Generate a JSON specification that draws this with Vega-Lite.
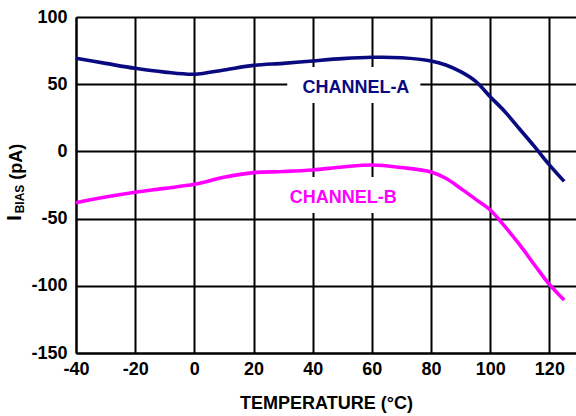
{
  "$schema": "https://vega.github.io/schema/vega-lite/v6.json",
  "autosize": "none",
  "width": 500,
  "height": 336,
  "padding": {"left": 76, "top": 17, "right": 0, "bottom": 63},
  "background": "white",
  "config": {
    "view": {"stroke": null},
    "font": "Liberation Sans",
    "axis": {
      "labelFont": "Liberation Sans",
      "labelFontWeight": "bold",
      "labelFontSize": 18,
      "labelColor": "black",
      "labelExpr": "'' + datum.value",
      "titleFont": "Liberation Sans",
      "titleFontWeight": "bold",
      "titleFontSize": 18,
      "titleColor": "black",
      "gridColor": "black",
      "gridOpacity": 1,
      "gridWidth": 2,
      "domainColor": "black",
      "domainWidth": 2,
      "ticks": false
    }
  },
  "datasets": {
    "curves": [
      {"T": -40, "v": 69.3, "channel": "A"},
      {"T": -30, "v": 65.5, "channel": "A"},
      {"T": -20, "v": 61.8, "channel": "A"},
      {"T": -10, "v": 59.0, "channel": "A"},
      {"T": 0, "v": 57.4, "channel": "A"},
      {"T": 10, "v": 60.6, "channel": "A"},
      {"T": 20, "v": 64.0, "channel": "A"},
      {"T": 30, "v": 65.5, "channel": "A"},
      {"T": 40, "v": 67.3, "channel": "A"},
      {"T": 50, "v": 69.0, "channel": "A"},
      {"T": 60, "v": 70.0, "channel": "A"},
      {"T": 70, "v": 69.7, "channel": "A"},
      {"T": 80, "v": 67.3, "channel": "A"},
      {"T": 85, "v": 64.3, "channel": "A"},
      {"T": 90, "v": 59.3, "channel": "A"},
      {"T": 95, "v": 52.3, "channel": "A"},
      {"T": 100, "v": 40.7, "channel": "A"},
      {"T": 105, "v": 29.5, "channel": "A"},
      {"T": 110, "v": 16.5, "channel": "A"},
      {"T": 115, "v": 3.5, "channel": "A"},
      {"T": 120, "v": -10.0, "channel": "A"},
      {"T": 125, "v": -22.3, "channel": "A"},
      {"T": -40, "v": -38.2, "channel": "B"},
      {"T": -30, "v": -34.0, "channel": "B"},
      {"T": -20, "v": -30.4, "channel": "B"},
      {"T": -10, "v": -27.5, "channel": "B"},
      {"T": 0, "v": -24.5, "channel": "B"},
      {"T": 10, "v": -19.3, "channel": "B"},
      {"T": 20, "v": -15.8, "channel": "B"},
      {"T": 30, "v": -15.0, "channel": "B"},
      {"T": 40, "v": -13.8, "channel": "B"},
      {"T": 50, "v": -11.6, "channel": "B"},
      {"T": 60, "v": -10.1, "channel": "B"},
      {"T": 70, "v": -12.0, "channel": "B"},
      {"T": 80, "v": -15.3, "channel": "B"},
      {"T": 85, "v": -20.0, "channel": "B"},
      {"T": 90, "v": -27.5, "channel": "B"},
      {"T": 95, "v": -35.5, "channel": "B"},
      {"T": 100, "v": -43.6, "channel": "B"},
      {"T": 105, "v": -56.0, "channel": "B"},
      {"T": 110, "v": -69.6, "channel": "B"},
      {"T": 115, "v": -84.5, "channel": "B"},
      {"T": 120, "v": -99.0, "channel": "B"},
      {"T": 125, "v": -110.6, "channel": "B"}
    ],
    "labels": [
      {"T": 54.6, "v": 46.9, "text": "CHANNEL-A", "channel": "A", "T1": 31.4, "T2": 76.4, "v1": 36, "v2": 62.8},
      {"T": 50.3, "v": -34.7, "text": "CHANNEL-B", "channel": "B", "T1": 28, "T2": 72, "v1": -45.8, "v2": -19}
    ],
    "ytitle": [
      {"T": -60.6, "v": -49.6, "text": "I", "part": "big"},
      {"T": -58.8, "v": -35.4, "text": "BIAS", "part": "small"},
      {"T": -60.1, "v": -7.7, "text": "(pA)", "part": "mid"}
    ]
  },
  "layer": [
    {
      "data": {"name": "labels"},
      "mark": {"type": "rect", "fill": "white", "stroke": null},
      "encoding": {
        "x": {"field": "T1", "type": "quantitative", "scale": {"domain": [-40, 129], "nice": false, "zero": false},
          "axis": {"values": [-40, -20, 0, 20, 40, 60, 80, 100, 120], "grid": true, "title": "TEMPERATURE (°C)", "labelPadding": 7, "titlePadding": 16, "labelFlush": false}},
        "x2": {"field": "T2"},
        "y": {"field": "v1", "type": "quantitative", "scale": {"domain": [-150, 100], "nice": false, "zero": false},
          "axis": {"values": [-150, -100, -50, 0, 50, 100], "grid": true, "title": null, "labelPadding": 9, "labelFlush": false}},
        "y2": {"field": "v2"}
      }
    },
    {
      "data": {"name": "curves"},
      "mark": {"type": "line", "interpolate": "catmull-rom", "strokeWidth": 3.6},
      "encoding": {
        "x": {"field": "T", "type": "quantitative"},
        "y": {"field": "v", "type": "quantitative"},
        "color": {"field": "channel", "type": "nominal", "scale": {"domain": ["A", "B"], "range": ["#0a0a80", "#ff00ff"]}, "legend": null}
      }
    },
    {
      "data": {"name": "labels"},
      "mark": {"type": "text", "font": "Liberation Sans", "fontWeight": "bold", "fontSize": 18, "align": "center", "baseline": "middle"},
      "encoding": {
        "x": {"field": "T", "type": "quantitative"},
        "y": {"field": "v", "type": "quantitative"},
        "text": {"field": "text"},
        "color": {"field": "channel", "type": "nominal", "legend": null}
      }
    },
    {
      "data": {"name": "ytitle"},
      "transform": [{"filter": "datum.part == 'big'"}],
      "mark": {"type": "text", "font": "Liberation Sans", "fontWeight": "bold", "fontSize": 20, "angle": 270, "align": "center", "baseline": "middle", "color": "black"},
      "encoding": {
        "x": {"field": "T", "type": "quantitative"},
        "y": {"field": "v", "type": "quantitative"},
        "text": {"field": "text"}
      }
    },
    {
      "data": {"name": "ytitle"},
      "transform": [{"filter": "datum.part == 'small'"}],
      "mark": {"type": "text", "font": "Liberation Sans", "fontWeight": "bold", "fontSize": 12, "angle": 270, "align": "center", "baseline": "middle", "color": "black"},
      "encoding": {
        "x": {"field": "T", "type": "quantitative"},
        "y": {"field": "v", "type": "quantitative"},
        "text": {"field": "text"}
      }
    },
    {
      "data": {"name": "ytitle"},
      "transform": [{"filter": "datum.part == 'mid'"}],
      "mark": {"type": "text", "font": "Liberation Sans", "fontWeight": "bold", "fontSize": 18, "angle": 270, "align": "center", "baseline": "middle", "color": "black"},
      "encoding": {
        "x": {"field": "T", "type": "quantitative"},
        "y": {"field": "v", "type": "quantitative"},
        "text": {"field": "text"}
      }
    }
  ]
}
